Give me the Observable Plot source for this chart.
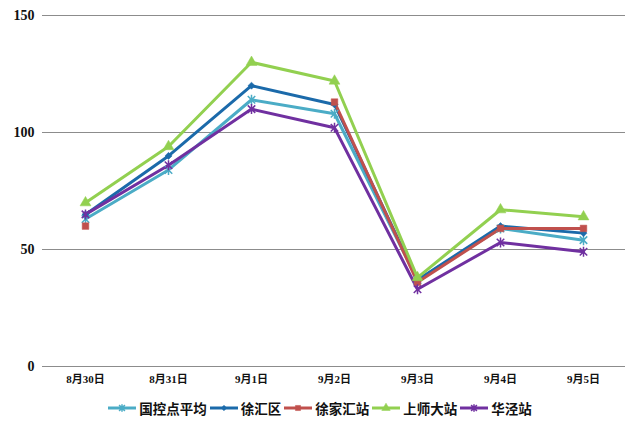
<!DOCTYPE html>
<html>
<head>
<meta charset="utf-8">
<script src="https://cdn.jsdelivr.net/npm/d3@7"></script>
<script src="https://cdn.jsdelivr.net/npm/@observablehq/plot@0.6"></script>
<style>
  body { margin: 0; background: #fff; width: 640px; height: 430px; overflow: hidden; }
  #legend { display: flex; justify-content: center; align-items: center; gap: 3px; margin-top: 8px;
    font-family: "Noto Sans CJK SC", sans-serif; font-weight: bold; font-size: 13.5px; color: #111; }
  #legend .item { display: flex; align-items: center; gap: 3px; }
</style>
</head>
<body>
<div id="chart"></div>
<div id="legend"></div>
<script>
const dates = ["8月30日", "8月31日", "9月1日", "9月2日", "9月3日", "9月4日", "9月5日"];
const seriesNames = ["国控点平均", "徐汇区", "徐家汇站", "上师大站", "华泾站"];
const guokong = [63, 84, 114, 108, 37, 59, 54];
const xuhui = [65, 90, 120, 112, 37, 60, 57];
const xujiahui = [60, null, null, 113, 36, 59, 59];
const shangshida = [70, 94, 130, 122, 38, 67, 64];
const huajing = [65, 86, 110, 102, 33, 53, 49];
const yTicks = [0, 50, 100, 150];

const colors = ["#4BACC6", "#1B6AAA", "#C0504D", "#92D050", "#7030A0"];
// star marker: X with a vertical bar (Excel-style)
const starSymbol = {
  draw(ctx, size) {
    const r = Math.sqrt(size / Math.PI);
    const d = r * 0.75;
    ctx.moveTo(-d, -d); ctx.lineTo(d, d);
    ctx.moveTo(d, -d); ctx.lineTo(-d, d);
    ctx.moveTo(0, -r); ctx.lineTo(0, r);
  }
};
const symbolTypes = [starSymbol, d3.symbolDiamond2, d3.symbolSquare2, d3.symbolTriangle2, starSymbol];
const sizes = [5, 3.2, 4.2, 5.2, 5];
const filledFlags = [false, true, true, true, false];
const allValues = [guokong, xuhui, xujiahui, shangshida, huajing];

const rows = [];
seriesNames.forEach((s, i) => {
  dates.forEach((d, j) => rows.push({series: s, date: d, value: allValues[i][j]}));
});

const serifFont = '"Liberation Serif", "Noto Sans CJK SC", serif';

const marks = [
  Plot.gridY(yTicks, {stroke: "#8c8c8c", strokeOpacity: 1, strokeWidth: 1}),
  Plot.axisY(yTicks, {tickSize: 0, tickPadding: 8, fontSize: 14, fontWeight: "bold", fontFamily: serifFont, label: null}),
  Plot.axisX({tickSize: 0, tickPadding: 9, fontSize: 11, fontWeight: "bold", fontFamily: serifFont, label: null})
];
seriesNames.forEach((s, i) => {
  const data = rows.filter(r => r.series === s);
  marks.push(Plot.line(data, {x: "date", y: "value", stroke: colors[i], strokeWidth: 3}));
});
seriesNames.forEach((s, i) => {
  const data = rows.filter(r => r.series === s && r.value != null);
  const filled = filledFlags[i];
  marks.push(Plot.dot(data, {
    x: "date", y: "value", symbol: symbolTypes[i], r: sizes[i],
    fill: filled ? colors[i] : "none", stroke: colors[i], strokeWidth: filled ? 0.5 : 1.5
  }));
});

const chart = Plot.plot({
  width: 640, height: 390,
  marginTop: 15, marginBottom: 24, marginLeft: 42, marginRight: 15,
  x: {type: "point", domain: dates, padding: 0.5},
  y: {domain: [0, 150]},
  style: {background: "white", color: "#111"},
  marks
});
document.getElementById("chart").append(chart);

const legend = document.getElementById("legend");
seriesNames.forEach((s, i) => {
  const item = document.createElement("div");
  item.className = "item";
  const sw = d3.create("svg").attr("width", 28).attr("height", 14);
  sw.append("line").attr("x1", 0).attr("x2", 28).attr("y1", 7).attr("y2", 7)
    .attr("stroke", colors[i]).attr("stroke-width", 3);
  const filled = filledFlags[i];
  sw.append("path").attr("transform", "translate(14,7)")
    .attr("d", d3.symbol(symbolTypes[i], Math.PI * sizes[i] * sizes[i] * 0.6)())
    .attr("fill", filled ? colors[i] : "none").attr("stroke", colors[i]).attr("stroke-width", filled ? 0.5 : 1.5);
  item.append(sw.node());
  const t = document.createElement("span");
  t.textContent = s;
  item.append(t);
  legend.append(item);
});
</script>
</body>
</html>
